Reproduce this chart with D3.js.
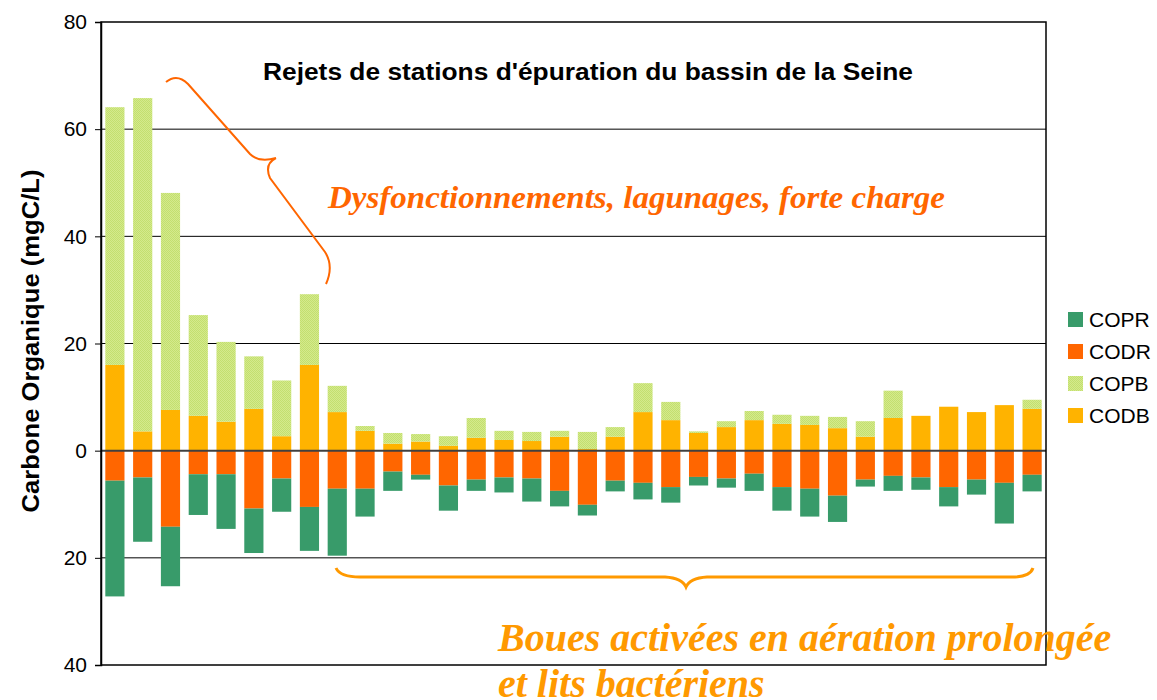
<!DOCTYPE html>
<html>
<head>
<meta charset="utf-8">
<script src="https://cdn.jsdelivr.net/npm/d3@7"></script>
<style>
  body { margin: 0; background: #fff; }
  text { font-family: "Liberation Sans", Arial, sans-serif; }
</style>
</head>
<body>
<svg id="chart" width="1157" height="700"></svg>
<script>
// stations (34 bars), values in mgC/L ; R = rejets (negative side), B = brut (positive side)
var stations = d3.range(1, 35);
var CODB = [16.0,3.6,7.6,6.5,5.4,7.8,2.7,16.0,7.2,3.7,1.3,1.7,0.9,2.4,2.0,1.8,2.6,0.3,2.6,7.2,5.7,3.3,4.4,5.7,5.0,4.8,4.2,2.6,6.1,6.5,8.2,7.2,8.5,7.8];
var COPB = [48.1,62.2,40.5,18.8,14.9,9.8,10.4,13.2,4.9,0.9,2.0,1.4,1.8,3.7,1.7,1.7,1.1,3.2,1.8,5.4,3.4,0.3,1.1,1.7,1.7,1.7,2.1,2.9,5.1,0,0,0,0,1.7];
var CODR = [-5.6,-5.0,-14.2,-4.4,-4.4,-10.8,-5.2,-10.5,-7.1,-7.1,-3.9,-4.5,-6.5,-5.4,-5.0,-5.2,-7.5,-10.1,-5.6,-6.0,-6.8,-4.9,-5.2,-4.3,-6.8,-7.1,-8.4,-5.4,-4.7,-5.0,-6.8,-5.4,-6.0,-4.5];
var COPR = [-21.6,-12.0,-11.1,-7.6,-10.2,-8.3,-6.2,-8.2,-12.5,-5.2,-3.6,-0.9,-4.7,-2.1,-2.8,-4.3,-2.9,-2.0,-2.0,-3.1,-2.9,-1.6,-1.7,-3.2,-4.4,-5.2,-4.9,-1.3,-2.8,-2.3,-3.6,-2.8,-7.6,-3.1];
var yTicks = [-40, -20, 0, 20, 40, 60, 80];
var legendKeys = ["COPR", "CODR", "COPB", "CODB"];

var colors = {COPR: "#389b6a", CODR: "#ff6600", COPB: "url(#copbPat)", CODB: "#ffb300"};

var table = stations.map(function(s, i) {
  return {station: s, CODB: CODB[i], COPB: COPB[i], CODR: CODR[i], COPR: COPR[i]};
});

var svg = d3.select("#chart");
// note: "top" is taken by window.top, so plot bounds live in one object
var plot = {left: 101, right: 1046, top: 22, bottom: 665};

// dotted light green fill like the excel one
var pat = svg.append("defs").append("pattern")
  .attr("id", "copbPat").attr("width", 2).attr("height", 2)
  .attr("patternUnits", "userSpaceOnUse");
pat.append("rect").attr("width", 2).attr("height", 2).attr("fill", "#d4ea8c");
pat.append("rect").attr("width", 1).attr("height", 1).attr("fill", "#c3df6f");
pat.append("rect").attr("x", 1).attr("y", 1).attr("width", 1).attr("height", 1).attr("fill", "#c3df6f");

var x = d3.scaleBand().domain(stations).range([plot.left, plot.right]).paddingInner(0.31).paddingOuter(0.155);
var y = d3.scaleLinear().domain([-40, 80]).range([plot.bottom, plot.top]);

// grid
svg.append("g").selectAll("line").data([-20, 20, 40, 60]).join("line")
  .attr("x1", plot.left).attr("x2", plot.right)
  .attr("y1", function(d) { return y(d); }).attr("y2", function(d) { return y(d); })
  .attr("stroke", "#000").attr("stroke-width", 1);

var stack = d3.stack().keys(["CODB", "CODR", "COPB", "COPR"]).offset(d3.stackOffsetDiverging);
var series = stack(table);

svg.append("g").selectAll("g").data(series).join("g")
  .attr("fill", function(d) { return colors[d.key]; })
  .selectAll("rect").data(function(d) { return d; }).join("rect")
  .attr("x", function(d) { return x(d.data.station); })
  .attr("width", x.bandwidth())
  .attr("y", function(d) { return y(Math.max(d[0], d[1])); })
  .attr("height", function(d) { return Math.abs(y(d[0]) - y(d[1])); });

// zero line
svg.append("line").attr("x1", plot.left).attr("x2", plot.right).attr("y1", y(0)).attr("y2", y(0))
  .attr("stroke", "#404040").attr("stroke-width", 2);

// frame
svg.append("rect").attr("x", plot.left).attr("y", plot.top)
  .attr("width", plot.right - plot.left).attr("height", plot.bottom - plot.top)
  .attr("fill", "none").attr("stroke", "#000").attr("stroke-width", 1.5);

var yAxis = svg.append("g").attr("transform", "translate(" + plot.left + ",0)")
  .call(d3.axisLeft(y).tickValues(yTicks).tickSize(6).tickPadding(8)
    .tickFormat(function(d) { return Math.abs(d); }));
yAxis.select(".domain").attr("stroke", "#000").attr("stroke-width", 1.5);
yAxis.selectAll(".tick line").attr("stroke", "#000");
yAxis.selectAll(".tick text").attr("font-size", 21).attr("fill", "#000")
  .style("font-family", "Liberation Sans, Arial, sans-serif");

svg.append("text")
  .attr("transform", "translate(39,341) rotate(-90)")
  .attr("text-anchor", "middle").attr("font-size", 23).attr("font-weight", "bold")
  .attr("textLength", 343).attr("lengthAdjust", "spacingAndGlyphs")
  .text("Carbone Organique (mgC/L)");

svg.append("text").attr("x", 263).attr("y", 80)
  .attr("font-size", 23).attr("font-weight", "bold")
  .attr("textLength", 650).attr("lengthAdjust", "spacingAndGlyphs")
  .text("Rejets de stations d'épuration du bassin de la Seine");

// legend
var leg = svg.append("g").attr("transform", "translate(1068,312)");
var items = leg.selectAll("g").data(legendKeys).join("g")
  .attr("transform", function(d, i) { return "translate(0," + (i * 32) + ")"; });
items.append("rect").attr("width", 15).attr("height", 15)
  .attr("fill", function(d) { return colors[d]; });
items.append("text").attr("x", 21).attr("y", 15).attr("font-size", 21).text(function(d) { return d; });

// annotations
var serif = "Liberation Serif, Times New Roman, serif";
svg.append("text").attr("x", 328).attr("y", 208)
  .attr("font-size", 31).attr("font-style", "italic").attr("font-weight", "bold")
  .attr("textLength", 617).attr("lengthAdjust", "spacingAndGlyphs")
  .style("font-family", serif).attr("fill", "#ff6600")
  .text("Dysfonctionnements, lagunages, forte charge");

svg.append("path")
  .attr("d", "M166,82 Q177,73 188,84 L250,154 Q259,163 276,158 M276,158 Q264,164 270,178 L325,252 Q334,266 326,284")
  .attr("fill", "none").attr("stroke", "#ff6600").attr("stroke-width", 2);

svg.append("path")
  .attr("d", "M336,568 Q340,577 360,577 L665,577 Q682,578 686,587 Q690,578 707,577 L1012,577 Q1030,577 1033,568")
  .attr("fill", "none").attr("stroke", "#ff9900").attr("stroke-width", 3);

var boues = svg.append("text").attr("font-size", 40).attr("font-style", "italic").attr("font-weight", "bold")
  .style("font-family", serif).attr("fill", "#ff9900");
boues.append("tspan").attr("x", 498).attr("y", 651).text("Boues activées en aération prolongée");
boues.append("tspan").attr("x", 498).attr("y", 697).text("et lits bactériens");
</script>
</body>
</html>
